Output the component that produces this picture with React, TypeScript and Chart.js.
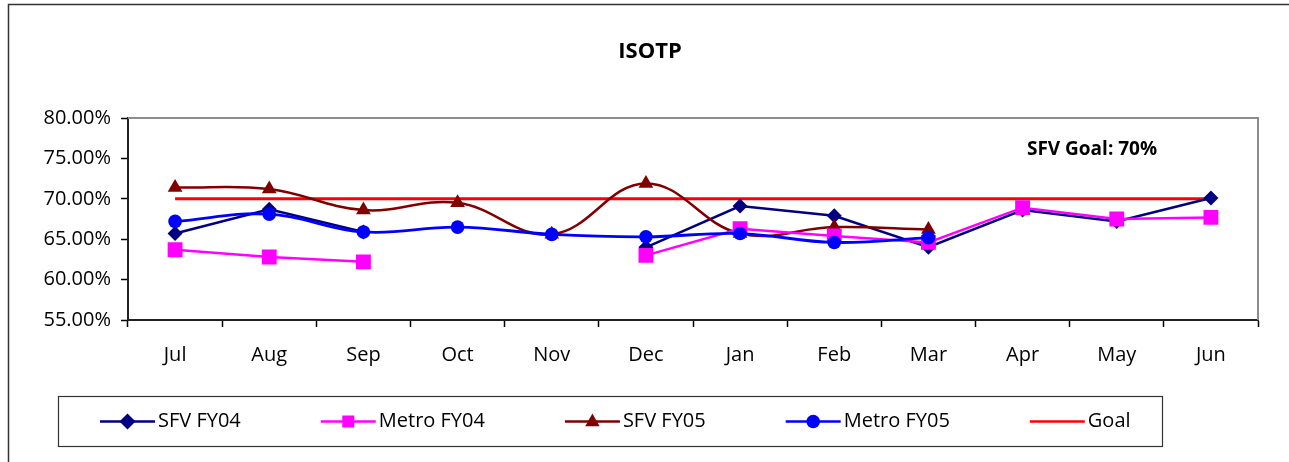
import React, { useEffect, useRef } from 'react';
import { Chart, registerables } from 'chart.js';

Chart.register(...registerables);

const months = ['Jul', 'Aug', 'Sep', 'Oct', 'Nov', 'Dec', 'Jan', 'Feb', 'Mar', 'Apr', 'May', 'Jun'];
const sfvFY04 = [65.7, 68.7, 65.9, null, null, 64.0, 69.1, 67.9, 64.0, 68.6, 67.2, 70.1];
const metroFY04 = [63.7, 62.8, 62.2, null, null, 63.0, 66.3, 65.4, 64.6, 68.9, 67.5, 67.7];
const sfvFY05 = [71.4, 71.2, 68.6, 69.5, 65.6, 71.9, 65.7, 66.5, 66.2, null, null, null];
const metroFY05 = [67.2, 68.1, 65.9, 66.5, 65.6, 65.3, 65.7, 64.6, 65.2, null, null, null];
const goal = [70, 70, 70, 70, 70, 70, 70, 70, 70, 70, 70, 70];
const yMin = 55;
const yMax = 80;
const yStep = 5;
const titleText = 'ISOTP';
const goalLabel = 'SFV Goal: 70%';

const FONT = '"Open Sans", "DejaVu Sans", sans-serif';

type Item = { label: string; color: string; style: string | null; width: number };

function drawMarker(ctx: CanvasRenderingContext2D, style: string | null, x: number, y: number, color: string, r: number) {
  if (!style) return;
  ctx.save();
  ctx.fillStyle = color;
  ctx.beginPath();
  if (style === 'rectRot') {
    ctx.moveTo(x, y - r);
    ctx.lineTo(x + r, y);
    ctx.lineTo(x, y + r);
    ctx.lineTo(x - r, y);
    ctx.closePath();
  } else if (style === 'rect') {
    const s = r * 0.75;
    ctx.rect(x - s, y - s, 2 * s, 2 * s);
  } else if (style === 'triangle') {
    ctx.moveTo(x, y - r);
    ctx.lineTo(x + r * 0.9, y + r * 0.6);
    ctx.lineTo(x - r * 0.9, y + r * 0.6);
    ctx.closePath();
  } else if (style === 'circle') {
    ctx.arc(x, y, r * 0.85, 0, Math.PI * 2);
  }
  ctx.fill();
  ctx.restore();
}

export default function App() {
  const ref = useRef<HTMLCanvasElement | null>(null);

  useEffect(() => {
    document.body.style.margin = '0';
    const canvas = ref.current;
    if (!canvas) return;

    const items: Item[] = [
      { label: 'SFV FY04', color: '#000080', style: 'rectRot', width: 2.5 },
      { label: 'Metro FY04', color: '#FF00FF', style: 'rect', width: 2.5 },
      { label: 'SFV FY05', color: '#800000', style: 'triangle', width: 2.5 },
      { label: 'Metro FY05', color: '#0000FF', style: 'circle', width: 2.5 },
      { label: 'Goal', color: '#FF0000', style: null, width: 2.5 },
    ];

    const decor = {
      id: 'decor',
      beforeDraw(chart: any) {
        const ctx = chart.ctx as CanvasRenderingContext2D;
        ctx.save();
        ctx.fillStyle = '#fff';
        ctx.fillRect(0, 0, chart.width, chart.height);
        ctx.strokeStyle = '#333';
        ctx.lineWidth = 1.5;
        ctx.beginPath();
        ctx.moveTo(8.5, chart.height + 5);
        ctx.lineTo(8.5, 4.5);
        ctx.lineTo(chart.width + 5, 4.5);
        ctx.stroke();
        ctx.restore();
      },
      beforeDatasetsDraw(chart: any) {
        const ctx = chart.ctx as CanvasRenderingContext2D;
        const a = chart.chartArea;
        ctx.save();
        ctx.strokeStyle = '#8c8c8c';
        ctx.lineWidth = 2;
        ctx.beginPath();
        ctx.moveTo(a.left, a.top);
        ctx.lineTo(a.right, a.top);
        ctx.lineTo(a.right, a.bottom);
        ctx.stroke();
        ctx.restore();
      },
      afterDraw(chart: any) {
        const ctx = chart.ctx as CanvasRenderingContext2D;
        ctx.save();
        ctx.fillStyle = '#000';
        ctx.font = `bold 22px ${FONT}`;
        ctx.textAlign = 'center';
        ctx.textBaseline = 'middle';
        ctx.fillText(titleText, 650, 52);
        ctx.font = `bold 19px ${FONT}`;
        ctx.fillText(goalLabel, 1092, 150);
        const boxL = 58.5, boxT = 396.5, boxR = 1162.5, boxB = 446.5;
        ctx.strokeStyle = '#333';
        ctx.lineWidth = 1.2;
        ctx.strokeRect(boxL, boxT, boxR - boxL, boxB - boxT);
        ctx.font = `20px ${FONT}`;
        ctx.textAlign = 'left';
        const cy = (boxT + boxB) / 2;
        let x = 100;
        items.forEach((it) => {
          ctx.strokeStyle = it.color;
          ctx.lineWidth = it.width;
          ctx.beginPath();
          ctx.moveTo(x, cy);
          ctx.lineTo(x + 55, cy);
          ctx.stroke();
          drawMarker(ctx, it.style, x + 27.5, cy, it.color, 8);
          ctx.fillStyle = '#000';
          ctx.fillText(it.label, x + 58, cy);
          const w = ctx.measureText(it.label).width;
          x += 58 + w + 80;
        });
        ctx.restore();
      },
    };

    const chart = new Chart(canvas, {
      type: 'line',
      data: {
        labels: months,
        datasets: [
          {
            label: 'SFV FY04',
            data: sfvFY04,
            borderColor: '#000080',
            backgroundColor: '#000080',
            borderWidth: 2.5,
            pointStyle: 'rectRot',
            pointRadius: 7.5,
            pointBorderWidth: 0,
            tension: 0,
            spanGaps: false,
            order: 4,
          },
          {
            label: 'Metro FY04',
            data: metroFY04,
            borderColor: '#FF00FF',
            backgroundColor: '#FF00FF',
            borderWidth: 2.5,
            pointStyle: 'rect',
            pointRadius: 10.5,
            pointBorderWidth: 0,
            tension: 0,
            spanGaps: false,
            order: 1,
          },
          {
            label: 'SFV FY05',
            data: sfvFY05,
            borderColor: '#800000',
            backgroundColor: '#800000',
            borderWidth: 2.5,
            pointStyle: 'triangle',
            pointRadius: 8.5,
            pointBorderWidth: 0,
            tension: 0.4,
            spanGaps: false,
            order: 2,
          },
          {
            label: 'Metro FY05',
            data: metroFY05,
            borderColor: '#0000FF',
            backgroundColor: '#0000FF',
            borderWidth: 2.8,
            pointStyle: 'circle',
            pointRadius: 6.8,
            pointBorderWidth: 0,
            tension: 0.4,
            spanGaps: false,
            order: 0,
          },
          {
            label: 'Goal',
            data: goal,
            borderColor: '#FF0000',
            backgroundColor: '#FF0000',
            borderWidth: 3,
            pointRadius: 0,
            tension: 0,
            order: 5,
          },
        ],
      },
      options: {
        responsive: false,
        animation: false,
        devicePixelRatio: 1,
        layout: { padding: { left: 0, top: 118, right: 31, bottom: 0 } },
        plugins: {
          legend: { display: false },
          title: { display: false },
          tooltip: { enabled: false },
        },
        scales: {
          x: {
            type: 'category',
            offset: true,
            grid: {
              offset: true,
              drawOnChartArea: false,
              drawTicks: true,
              tickLength: 7,
              tickColor: '#000',
              tickWidth: 1.5,
            },
            border: { display: true, color: '#222', width: 2 },
            ticks: {
              color: '#000',
              font: { family: FONT, size: 20 },
              padding: 16,
              maxRotation: 0,
              autoSkip: false,
            },
            afterFit(scale: any) {
              scale.height = 142;
            },
          },
          y: {
            min: yMin,
            max: yMax,
            grid: {
              drawOnChartArea: false,
              drawTicks: true,
              tickLength: 7,
              tickColor: '#000',
              tickWidth: 1.5,
            },
            border: { display: true, color: '#222', width: 2 },
            ticks: {
              stepSize: yStep,
              color: '#000',
              font: { family: FONT, size: 20 },
              padding: 10,
              callback: (v: any) => Number(v).toFixed(2) + '%',
            },
            afterFit(scale: any) {
              scale.width = 128;
            },
          },
        },
      },
      plugins: [decor],
    } as any);

    return () => chart.destroy();
  }, []);

  return (
    <div style={{ width: 1289, height: 462 }}>
      <canvas ref={ref} width={1289} height={462} style={{ display: 'block' }} />
    </div>
  );
}
